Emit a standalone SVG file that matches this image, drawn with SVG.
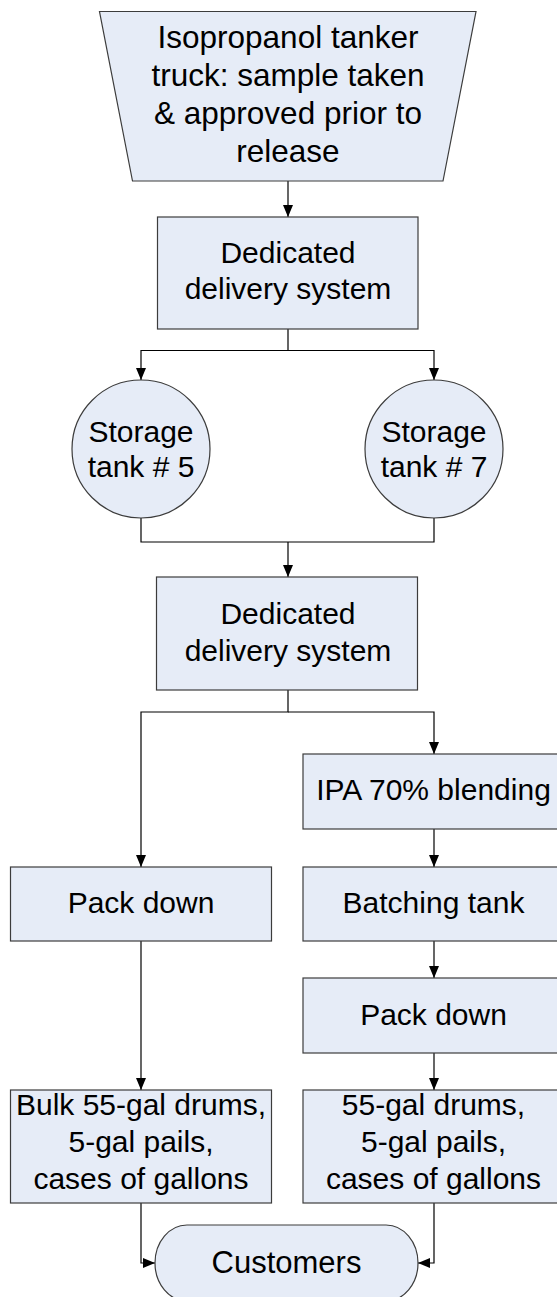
<svg xmlns="http://www.w3.org/2000/svg" width="557" height="1297" viewBox="0 0 557 1297">
<style>
.n{fill:#E6ECF7;stroke:#3C3C3C;stroke-width:1.2}
.t{font-family:"Liberation Sans",Arial,sans-serif;font-size:30px;fill:#000;text-anchor:middle}
.c{fill:none;stroke:#000;stroke-width:1.2}
</style>
<defs>
<marker id="ah" viewBox="0 0 12 10" refX="12" refY="5" markerWidth="12" markerHeight="10" markerUnits="userSpaceOnUse" orient="auto">
<path d="M0,0 L12,5 L0,10 Z" fill="#000"/>
</marker>
</defs>
<rect width="557" height="1297" fill="#fff"/>
<g id="connectors">
<path class="c" d="M288,181 V217" marker-end="url(#ah)"/>
<path class="c" d="M288,329 V350.5 H141 V380" marker-end="url(#ah)"/>
<path class="c" d="M288,350.5 H434 V380" marker-end="url(#ah)"/>
<path class="c" d="M141,518 V542 H434 V518"/>
<path class="c" d="M288,542 V577" marker-end="url(#ah)"/>
<path class="c" d="M288,690 V712 H141 V867" marker-end="url(#ah)"/>
<path class="c" d="M288,712 H434 V754" marker-end="url(#ah)"/>
<path class="c" d="M434,829 V867" marker-end="url(#ah)"/>
<path class="c" d="M434,941 V978" marker-end="url(#ah)"/>
<path class="c" d="M434,1053 V1090" marker-end="url(#ah)"/>
<path class="c" d="M141,941 V1090" marker-end="url(#ah)"/>
<path class="c" d="M141,1203 V1263 H155" marker-end="url(#ah)"/>
<path class="c" d="M434,1203 V1263 H418" marker-end="url(#ah)"/>
</g>
<g id="tanker">
<polygon class="n" points="99.5,11.5 476,11.5 443,181 132.5,181"/>
<text class="t" style="font-size:31.5px" x="288" y="48">Isopropanol tanker</text>
<text class="t" style="font-size:31.5px" x="288" y="86">truck: sample taken</text>
<text class="t" style="font-size:31.5px" x="288" y="124">&amp; approved prior to</text>
<text class="t" style="font-size:31.5px" x="288" y="162">release</text>
</g>
<g id="delivery1">
<rect class="n" x="157.5" y="217" width="260.5" height="112"/>
<text class="t" x="288" y="263">Dedicated</text>
<text class="t" x="288" y="299">delivery system</text>
</g>
<g id="tank5">
<circle class="n" cx="141" cy="449" r="69"/>
<text class="t" x="141" y="442">Storage</text>
<text class="t" x="141" y="477">tank # 5</text>
</g>
<g id="tank7">
<circle class="n" cx="434" cy="449" r="69"/>
<text class="t" x="434" y="442">Storage</text>
<text class="t" x="434" y="477">tank # 7</text>
</g>
<g id="delivery2">
<rect class="n" x="156.5" y="577" width="261" height="113"/>
<text class="t" x="288" y="624">Dedicated</text>
<text class="t" x="288" y="661">delivery system</text>
</g>
<g id="blending">
<rect class="n" x="303" y="754" width="261" height="75"/>
<text class="t" x="433.5" y="800">IPA 70% blending</text>
</g>
<g id="packdown1">
<rect class="n" x="10.5" y="867" width="261" height="74"/>
<text class="t" x="141" y="913">Pack down</text>
</g>
<g id="batching">
<rect class="n" x="303" y="867" width="261" height="74"/>
<text class="t" x="433.5" y="913">Batching tank</text>
</g>
<g id="packdown2">
<rect class="n" x="303" y="978" width="261" height="75"/>
<text class="t" x="433.5" y="1025">Pack down</text>
</g>
<g id="bulk">
<rect class="n" x="10.5" y="1090" width="261" height="113"/>
<text class="t" x="141" y="1115">Bulk 55-gal drums,</text>
<text class="t" x="141" y="1152">5-gal pails,</text>
<text class="t" x="141" y="1189">cases of gallons</text>
</g>
<g id="drums">
<rect class="n" x="303" y="1090" width="261" height="113"/>
<text class="t" x="433.5" y="1115">55-gal drums,</text>
<text class="t" x="433.5" y="1152">5-gal pails,</text>
<text class="t" x="433.5" y="1189">cases of gallons</text>
</g>
<g id="customers">
<rect class="n" x="155" y="1225" width="263" height="76" rx="32" ry="38"/>
<text class="t" style="font-size:31px" x="286.5" y="1273">Customers</text>
</g>
</svg>
